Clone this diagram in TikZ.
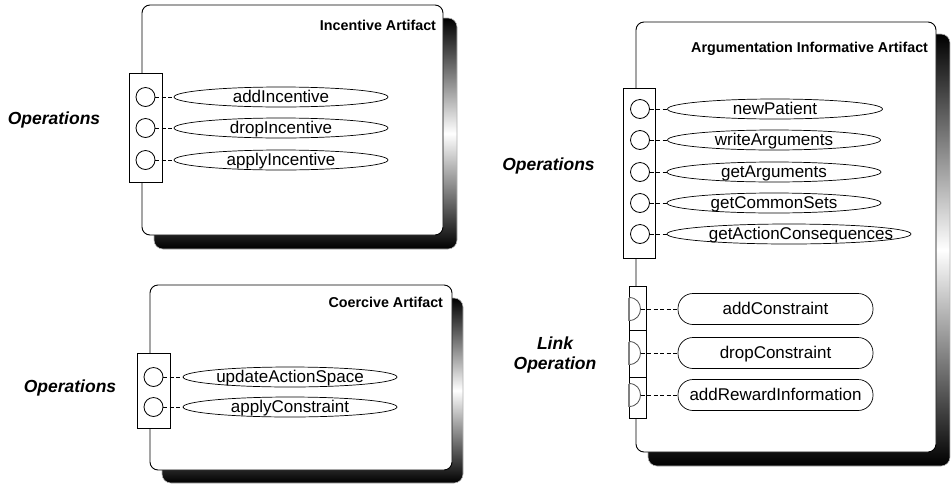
\documentclass[tikz,border=0pt]{standalone}
\usepackage{fontspec}
\setmainfont{Liberation Sans}
\usetikzlibrary{shapes.geometric}

\begin{document}
\begin{tikzpicture}[x=1pt,y=-1pt,
  every node/.style={inner sep=0pt, outer sep=0pt},
  artifact/.style={draw, fill=white, rounded corners=8pt, line width=0.9pt},
  shadowbox/.style={draw=gray!60, line width=0.6pt, rounded corners=9pt,
    top color=black, bottom color=black, middle color=white},
  portbar/.style={draw, fill=white, line width=0.8pt},
  portc/.style={draw, circle, fill=white, minimum size=19pt, line width=0.8pt},
  optext/.style={font=\fontsize{17}{19}\selectfont, text height=12pt, text depth=2pt},
  op/.style={draw, ellipse, fill=white, minimum height=20pt, line width=0.7pt, optext},
  linkop/.style={draw, rounded corners=15pt, fill=white, minimum width=195pt,
    minimum height=31pt, line width=0.7pt, optext},
  dport/.style={draw=black!70, fill=white, line width=0.8pt},
  link/.style={dash pattern=on 4pt off 2.5pt, line width=0.6pt},
  title/.style={font=\bfseries\fontsize{14.3}{16}\selectfont, anchor=base east},
  side/.style={font=\bfseries\itshape\fontsize{17.5}{20}\selectfont, align=center, anchor=base}
]
\useasboundingbox (0,0) rectangle (951,483);

% ---------- Incentive Artifact ----------
\shade[shadowbox] (154,18) rectangle (457,249);
\node[artifact, minimum width=301pt, minimum height=230pt] (incbox) at (292.5,120) {};
\node[title] (inctitle) at (436,30) {Incentive Artifact};
\node[portbar, minimum width=33pt, minimum height=109pt] (incport) at (145.5,127.5) {};
\node[portc] (ia) at (145.5,97) {};
\node[portc] (ib) at (145.5,128) {};
\node[portc] (ic) at (145.5,160) {};
\node[op, minimum width=214pt] (eia) at (281,97) {\makebox[0pt]{addIncentive}};
\node[op, minimum width=214pt] (eib) at (281,128) {\makebox[0pt]{dropIncentive}};
\node[op, minimum width=214pt] (eic) at (281,160) {\makebox[0pt]{applyIncentive}};
\draw[link] (ia) -- (eia);
\draw[link] (ib) -- (eib);
\draw[link] (ic) -- (eic);
\node[side] (incops) at (54,124) {Operations};

% ---------- Coercive Artifact ----------
\shade[shadowbox] (162,298) rectangle (463,483);
\node[artifact, minimum width=302pt, minimum height=185pt] (coebox) at (301,377.5) {};
\node[title] (coetitle) at (443,307) {Coercive Artifact};
\node[portbar, minimum width=33pt, minimum height=75pt] (coeport) at (153.5,390.5) {};
\node[portc] (ca) at (153.5,377) {};
\node[portc] (cb) at (153.5,407) {};
\node[op, minimum width=214pt] (eca) at (290,377) {\makebox[0pt]{updateActionSpace}};
\node[op, minimum width=214pt] (ecb) at (290,407) {\makebox[0pt]{applyConstraint}};
\draw[link] (ca) -- (eca);
\draw[link] (cb) -- (ecb);
\node[side] (coeops) at (70,392) {Operations};

% ---------- Argumentation Informative Artifact ----------
\shade[shadowbox] (648,34) rectangle (950,466);
\node[artifact, minimum width=300pt, minimum height=430pt] (argbox) at (786,237) {};
\node[title] (argtitle) at (928,52) {Argumentation Informative Artifact};
\node[portbar, minimum width=32pt, minimum height=170pt] (argport) at (639,173) {};
\node[portc] (aa) at (640,109) {};
\node[portc] (ab) at (640,140) {};
\node[portc] (ac) at (640,172) {};
\node[portc] (ad) at (640,203) {};
\node[portc] (ae) at (640,234) {};
\node[op, minimum width=215pt] (eaa) at (775,109) {\makebox[0pt]{newPatient}};
\node[op, minimum width=213pt] (eab) at (774,140) {\makebox[0pt]{writeArguments}};
\node[op, minimum width=214pt] (eac) at (774,172) {\makebox[0pt]{getArguments}};
\node[op, minimum width=214pt] (ead) at (774,203) {\makebox[0pt]{getCommonSets}};
\node[op, minimum width=244pt] (eae) at (789,234) {\makebox[0pt]{\hspace*{24pt}getActionConsequences}};
\draw[link] (aa) -- (eaa);
\draw[link] (ab) -- (eab);
\draw[link] (ac) -- (eac);
\draw[link] (ad) -- (ead);
\draw[link] (ae) -- (eae);
\node[side] (argops) at (548.5,170) {Operations};

% link operation ports
\node[portbar, minimum width=17pt, minimum height=132pt] (lport) at (637.5,352) {};
\draw[line width=0.8pt] (629,330) -- (646,330);
\draw[line width=0.8pt] (629,377) -- (646,377);
\foreach \yy/\nm in {309/la, 353/lb, 395/lc}{
  \draw[dport] (629,\yy-11.5) .. controls (644.3,\yy-11.5) and (644.3,\yy+11.5) .. (629,\yy+11.5);
  \draw[gray, line width=2pt] (629,\yy-11.5) -- (629,\yy+11.5);
  \coordinate (\nm) at (640.5,\yy);
}
\node[linkop] (rla) at (775.5,309) {addConstraint};
\node[linkop] (rlb) at (775.5,353) {dropConstraint};
\node[linkop] (rlc) at (775.5,395) {addRewardInformation};
\draw[link] (la) -- (rla);
\draw[link] (lb) -- (rlb);
\draw[link] (lc) -- (rlc);
\node[side, anchor=center] (linkops) at (555,355) {Link\\Operation};
\end{tikzpicture}
\end{document}
